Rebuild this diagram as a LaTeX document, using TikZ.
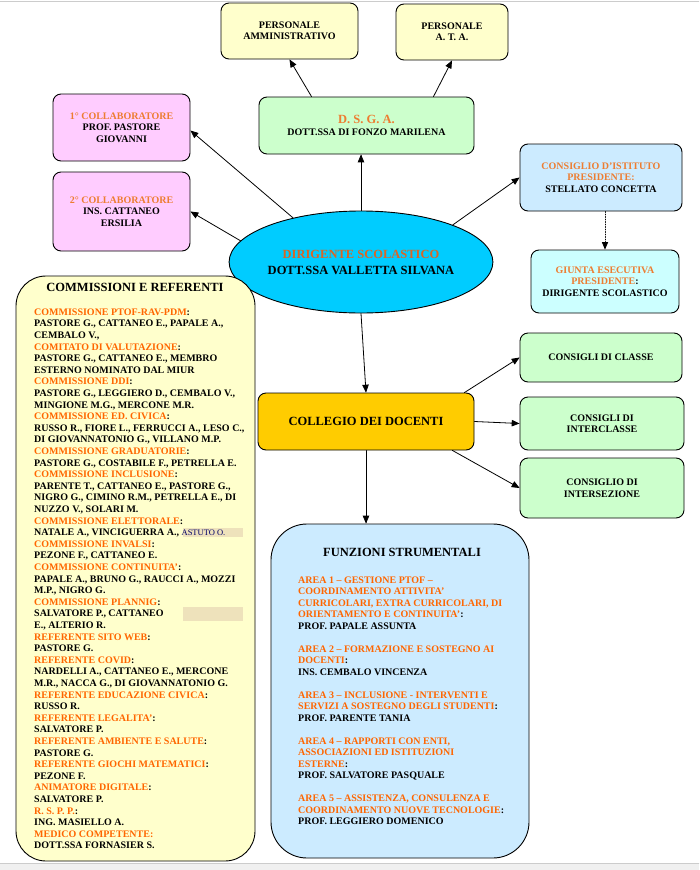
\documentclass[tikz,border=0pt]{standalone}
\usepackage{fontspec}
\setmainfont{Liberation Serif}
\usepackage{pgf,tikz}
\usetikzlibrary{arrows,shapes.geometric}
\definecolor{ffffcc}{rgb}{1.,1.,0.8}
\definecolor{ccffcc}{rgb}{0.8,1.,0.8}
\definecolor{ffccff}{rgb}{1.,0.8,1.}
\definecolor{qqccff}{rgb}{0.,0.8,1.}
\definecolor{ccebff}{rgb}{0.8,0.922,1.}
\definecolor{ccffff}{rgb}{0.8,1.,1.}
\definecolor{ffccqq}{rgb}{1.,0.8,0.}
\definecolor{ffzzqq}{rgb}{1.,0.4,0.}
\definecolor{edxdtt}{rgb}{0.929,0.49,0.192}
\definecolor{dduutt}{rgb}{0.85,0.4,0.15}
\definecolor{eee2bb}{rgb}{0.933,0.886,0.733}
\definecolor{qqqqzz}{rgb}{0.,0.,0.4}
\definecolor{ffffff}{rgb}{0.94,0.94,0.94}
\definecolor{cccccc}{rgb}{0.8,0.8,0.8}
\newcommand{\ot}[1]{\textcolor{edxdtt}{#1}}
\newcommand{\oh}[1]{\textcolor{ffzzqq}{#1}}
\newcommand{\bigf}{\fontsize{12.5}{15}\selectfont}
\begin{document}
\begin{tikzpicture}[line cap=round,line join=round,>=triangle 45,x=1pt,y=-1pt,
  box/.style={draw,line width=0.9pt,rounded corners=8pt,align=center,inner sep=1pt,font=\fontsize{10}{11.5}\selectfont\bfseries},
  list/.style={anchor=north west,align=left,inner sep=0pt,font=\fontsize{10}{11.6}\selectfont\bfseries},
  conn/.style={->,line width=0.8pt}]
\useasboundingbox (0,0) rectangle (699,870);
\fill[color=ffffff] (0,863) rectangle (699,870);
\draw[color=cccccc] (0,863) -- (699,863);
\draw[color=cccccc] (0,1) -- (699,1);
% top
\node[box,fill=ffffcc,minimum width=137,minimum height=56] (amm) at (289.5,31) {PERSONALE\\AMMINISTRATIVO};
\node[box,fill=ffffcc,minimum width=112,minimum height=56] (ata) at (452,32) {PERSONALE\\A. T. A.};
\node[box,fill=ccffcc,minimum width=215,minimum height=57] (dsga) at (366.5,125.5) {\ot{\bigf D. S. G. A.}\\DOTT.SSA DI FONZO MARILENA};
\node[box,fill=ffccff,minimum width=137,minimum height=67] (col1) at (121.5,127.5) {\ot{1° COLLABORATORE}\\PROF. PASTORE\\GIOVANNI};
\node[box,fill=ffccff,minimum width=137,minimum height=79] (col2) at (121.5,211.5) {\ot{2° COLLABORATORE}\\INS. CATTANEO\\ERSILIA};
\node[ellipse,draw,line width=0.9pt,fill=qqccff,minimum width=251,minimum height=102,inner sep=0pt,align=center,font=\fontsize{12.5}{16}\selectfont\bfseries] (dir) at (361,262) {\textcolor{dduutt}{DIRIGENTE SCOLASTICO}\\DOTT.SSA VALLETTA SILVANA};
% right
\node[box,fill=ccebff,minimum width=162,minimum height=67] (ist) at (601,177.5) {\ot{CONSIGLIO D'ISTITUTO}\\\ot{PRESIDENTE:}\\STELLATO CONCETTA};
\node[box,fill=ccffff,minimum width=148,minimum height=63] (giunta) at (605,281.5) {\ot{GIUNTA ESECUTIVA}\\\ot{PRESIDENTE}:\\DIRIGENTE SCOLASTICO};
\node[box,fill=ffccqq,minimum width=216,minimum height=57,font=\bigf\bfseries] (coll) at (366,421.5) {COLLEGIO DEI DOCENTI};
\node[box,fill=ccffcc,minimum width=162,minimum height=49] (classe) at (601,357.5) {CONSIGLI DI CLASSE};
\node[box,fill=ccffcc,minimum width=164,minimum height=53] (inter) at (602,423.5) {CONSIGLI DI\\INTERCLASSE};
\node[box,fill=ccffcc,minimum width=164,minimum height=60] (inters) at (602,488) {CONSIGLIO DI\\INTERSEZIONE};
% commissioni
\node[box,rounded corners=30pt,fill=ffffcc,minimum width=239,minimum height=585] (comm) at (135.5,568.5) {};
\node[inner sep=0pt,font=\bigf\bfseries] (commtit) at (135,287) {COMMISSIONI E REFERENTI};
\fill[color=eee2bb] (183,528) rectangle (243,537);
\fill[color=eee2bb] (183,607) rectangle (243,621);
\node[list] (commlist) at (34,308.5) {\oh{COMMISSIONE PTOF-RAV-PDM}:\\
PASTORE G., CATTANEO E., PAPALE A.,\\
CEMBALO V.,\\
\oh{COMITATO DI VALUTAZIONE}:\\
PASTORE G., CATTANEO E., MEMBRO\\
ESTERNO NOMINATO DAL MIUR\\
\oh{COMMISSIONE DDI}:\\
PASTORE G., LEGGIERO D., CEMBALO V.,\\
MINGIONE M.G., MERCONE M.R.\\
\oh{COMMISSIONE ED. CIVICA}:\\
RUSSO R., FIORE L., FERRUCCI A., LESO C.,\\
DI GIOVANNATONIO G., VILLANO M.P.\\
\oh{COMMISSIONE GRADUATORIE}:\\
PASTORE G., COSTABILE F., PETRELLA E.\\
\oh{COMMISSIONE INCLUSIONE}:\\
PARENTE T., CATTANEO E., PASTORE G.,\\
NIGRO G., CIMINO R.M., PETRELLA E., DI\\
NUZZO V., SOLARI M.\\
\oh{COMMISSIONE ELETTORALE}:\\
NATALE A., VINCIGUERRA A., {\mdseries\fontsize{8.5}{11.6}\selectfont\textcolor{qqqqzz}{ASTUTO O.}}\\
\oh{COMMISSIONE INVALSI}:\\
PEZONE F., CATTANEO E.\\
\oh{COMMISSIONE CONTINUITA'}:\\
PAPALE A., BRUNO G., RAUCCI A., MOZZI\\
M.P., NIGRO G.\\
\oh{COMMISSIONE PLANNIG}:\\
SALVATORE P., CATTANEO\\
E., ALTERIO R.\\
\oh{REFERENTE SITO WEB}:\\
PASTORE G.\\
\oh{REFERENTE COVID}:\\
NARDELLI A., CATTANEO E., MERCONE\\
M.R., NACCA G., DI GIOVANNATONIO G.\\
\oh{REFERENTE EDUCAZIONE CIVICA}:\\
RUSSO R.\\
\oh{REFERENTE LEGALITA'}:\\
SALVATORE P.\\
\oh{REFERENTE AMBIENTE E SALUTE}:\\
PASTORE G.\\
\oh{REFERENTE GIOCHI MATEMATICI}:\\
PEZONE F.\\
\oh{ANIMATORE DIGITALE}:\\
SALVATORE P.\\
\oh{R. S. P. P.}:\\
ING. MASIELLO A.\\
\oh{MEDICO COMPETENTE:}\\
DOTT.SSA FORNASIER S.};
% funzioni
\node[box,rounded corners=36pt,fill=ccebff,minimum width=258,minimum height=334] (funz) at (400,691) {};
\node[inner sep=0pt,font=\bigf\bfseries] (funztit) at (402,552) {FUNZIONI STRUMENTALI};
\node[list,font=\fontsize{10}{11.5}\selectfont\bfseries] (funzlist) at (298,576.5) {\oh{AREA 1 – GESTIONE PTOF –}\\
\oh{COORDINAMENTO ATTIVITA'}\\
\oh{CURRICOLARI, EXTRA CURRICOLARI, DI}\\
\oh{ORIENTAMENTO E CONTINUITA'}:\\
PROF. PAPALE ASSUNTA\\[11.5pt]
\oh{AREA 2 – FORMAZIONE E SOSTEGNO AI}\\
\oh{DOCENTI}:\\
INS. CEMBALO VINCENZA\\[11.5pt]
\oh{AREA 3 – INCLUSIONE - INTERVENTI E}\\
\oh{SERVIZI A SOSTEGNO DEGLI STUDENTI}:\\
PROF. PARENTE TANIA\\[11.5pt]
\oh{AREA 4 – RAPPORTI CON ENTI,}\\
\oh{ASSOCIAZIONI ED ISTITUZIONI}\\
\oh{ESTERNE}:\\
PROF. SALVATORE PASQUALE\\[11.5pt]
\oh{AREA 5 – ASSISTENZA, CONSULENZA E}\\
\oh{COORDINAMENTO NUOVE TECNOLOGIE}:\\
PROF. LEGGIERO DOMENICO};
% connectors
\draw[conn] ([xshift=-55]dsga.north) -- (amm.south);
\draw[conn] ([xshift=67]dsga.north) -- (ata.south);
\draw[conn] (dir.north) -- (dir.north |- dsga.south);
\draw[conn] (dir.147) -- ([yshift=-3]col1.east);
\draw[conn] (dir.170) -- (col2.east);
\draw[conn] (dir.22) -- (ist.west);
\draw[conn,line width=0.7pt,dash pattern=on 1pt off 1.5pt] (giunta.north |- ist.south) -- (giunta.north);
\draw[conn] (dir.south) -- (coll.north);
\draw[conn] ([xshift=-10]coll.north east) -- (classe.west);
\draw[conn] (coll.east) -- (inter.west);
\draw[conn] ([xshift=-22]coll.south east) -- (inters.west);
\draw[conn] (coll.south) -- (coll.south |- funz.north);
\end{tikzpicture}
\end{document}
